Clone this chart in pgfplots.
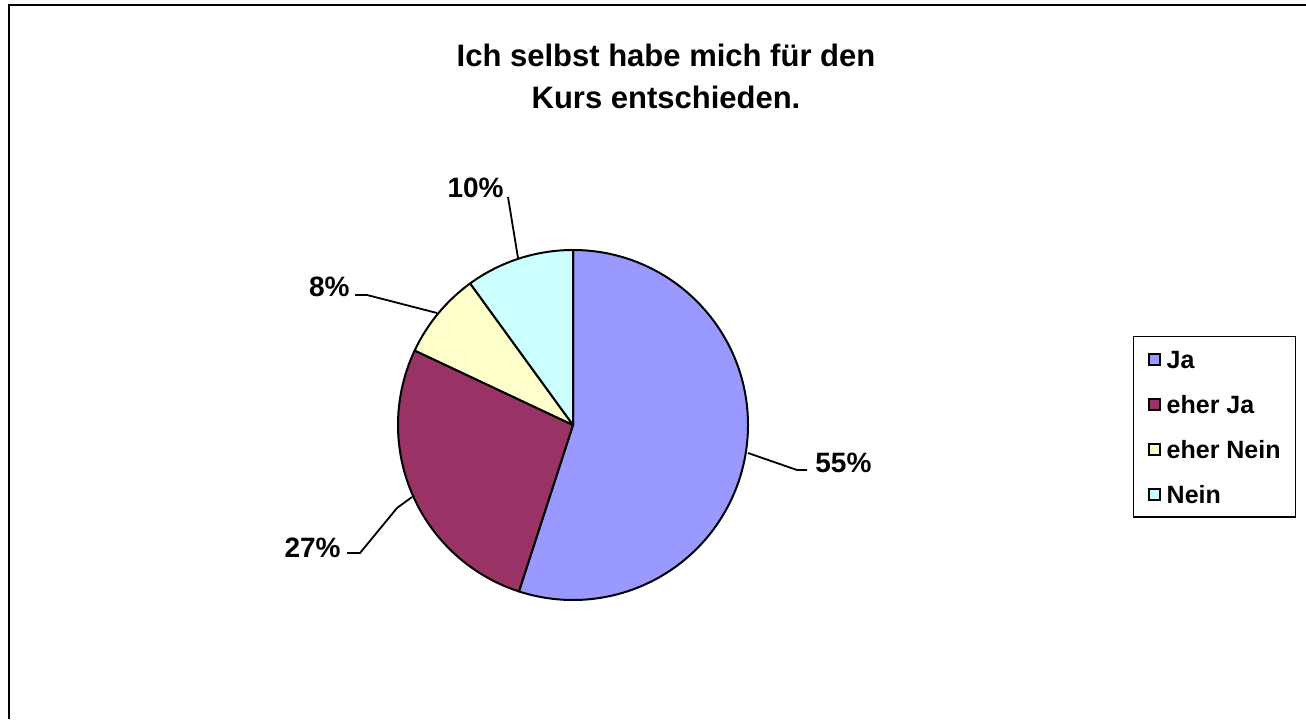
\documentclass[border=0pt]{standalone}
\usepackage{pgfplots}
\usepackage{pgfplotstable}
\pgfplotsset{compat=1.18}
\usepackage{fontspec}
\setmainfont{Liberation Sans}

\definecolor{ja}{HTML}{9999FF}
\definecolor{eherja}{HTML}{993366}
\definecolor{ehernein}{HTML}{FFFFCC}
\definecolor{nein}{HTML}{CCFFFF}

% Anteile in Prozent, im Uhrzeigersinn ab 12 Uhr
\pgfplotstableread{
label value color
Ja 55 ja
eherJa 27 eherja
eherNein 8 ehernein
Nein 10 nein
}\piedata

\begin{document}
\begin{tikzpicture}
\begin{axis}[
    width=653pt, height=359.5pt, scale only axis,
    xmin=0, xmax=1306, ymin=0, ymax=719,
    hide axis, clip=false,
    legend image code/.code={\draw[#1,draw=black,line width=0.8pt] (0pt,-2.7pt) rectangle (5.4pt,2.7pt);},
    legend cell align=left,
    legend style={at={(axis cs:1133,383)}, anchor=north west, draw=black, line width=0.7pt,
        font=\fontsize{12.5}{15}\selectfont\bfseries,
        nodes={inner sep=0pt, text height=9pt, text depth=0pt},
        row sep=13.5pt, column sep=3pt, inner xsep=7.3pt, inner ysep=6.8pt},
]
\addlegendimage{fill=ja}
\addlegendimage{fill=eherja}
\addlegendimage{fill=ehernein}
\addlegendimage{fill=nein}
\legend{Ja, eher Ja, eher Nein, Nein}

\pgfplotstablegetrowsof{\piedata}
\pgfmathtruncatemacro\nrows{\pgfplotsretval-1}
\def\startang{90}
\pgfplotsforeachungrouped \i in {0,...,\nrows}{%
    \pgfplotstablegetelem{\i}{value}\of\piedata \let\val\pgfplotsretval
    \pgfplotstablegetelem{\i}{color}\of\piedata \let\col\pgfplotsretval
    \pgfmathsetmacro\endang{\startang-3.6*\val}
    \edef\temp{\noexpand\filldraw[fill=\col,draw=black,line width=1pt,line join=round]
        (axis cs:573,294) -- ++(\startang:87.5pt)
        arc[start angle=\startang,end angle=\endang,radius=87.5pt] -- cycle;}
    \temp
    \global\let\startang\endang
}

% Beschriftungen mit Fuehrungslinien
\draw[line width=0.9pt] (axis cs:748,266) -- (axis cs:797,249) -- (axis cs:807,249);
\draw[line width=0.9pt] (axis cs:412,222) -- (axis cs:397,211) -- (axis cs:360,166) -- (axis cs:347,166);
\draw[line width=0.9pt] (axis cs:355,424) -- (axis cs:367,424) -- (axis cs:437,406);
\draw[line width=0.9pt] (axis cs:508,522) -- (axis cs:518,461);
\begin{scope}[every node/.style={font=\fontsize{14}{16}\selectfont\bfseries, inner sep=0pt}]
\node[anchor=west] at (axis cs:815,256) {55\%};
\node[anchor=east] at (axis cs:341,171) {27\%};
\node[anchor=east] at (axis cs:350,432) {8\%};
\node[anchor=east] at (axis cs:504,531) {10\%};
\end{scope}

\node[align=center, font=\fontsize{15.5}{21}\selectfont\bfseries] at (axis cs:666,643)
    {Ich selbst habe mich für den\\Kurs entschieden.};

% Rahmen (rechts und unten abgeschnitten)
\draw[line width=1pt] (axis cs:9,0) -- (axis cs:9,714) -- (axis cs:1306,714);
\end{axis}
\pgfresetboundingbox
\useasboundingbox (current axis.south west) rectangle (current axis.north east);
\end{tikzpicture}
\end{document}
